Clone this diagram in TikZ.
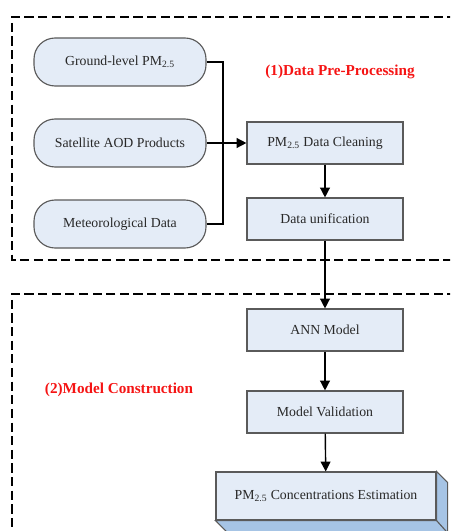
\documentclass[tikz,border=0pt]{standalone}
\usepackage{fontspec}
\setmainfont{Liberation Serif}
\usetikzlibrary{arrows.meta}

\definecolor{boxfill}{RGB}{228,236,247}
\definecolor{boxline}{RGB}{90,90,90}
\definecolor{sidefill}{RGB}{166,196,229}
\definecolor{labelred}{RGB}{245,20,20}
\definecolor{textgray}{RGB}{40,40,40}

\tikzset{
    inputbox/.style={draw=boxline, fill=boxfill, line width=0.8pt, rounded corners=15pt, text=textgray,
        minimum width=172*0.025cm, minimum height=48*0.025cm, font=\fontsize{9.8}{12}\selectfont},
    procbox/.style={draw=boxline, fill=boxfill, line width=0.8pt, text=textgray,
        minimum width=156*0.025cm, minimum height=42*0.025cm, font=\fontsize{9.8}{12}\selectfont},
    stagelabel/.style={text=labelred, font=\fontsize{10.8}{13}\selectfont\bfseries},
    frame/.style={line width=1pt, dash pattern=on 6.5pt off 3.2pt},
    arr/.style={line width=1pt, -{Triangle[length=7pt,width=7pt]}},
    link/.style={line width=1pt}
}

\newcommand{\pmtf}{PM\textsubscript{2.5}}

\begin{document}
\begin{tikzpicture}[x=0.025cm, y=-0.025cm]
    \useasboundingbox (0,0) rectangle (450,531);
    \clip (0,0) rectangle (450,531);

    % dashed frames of the two stages
    \draw[frame] (470,17) -- (12,17) -- (12,260) -- (470,260);
    \draw[frame] (470,294) -- (12,294) -- (12,560);

    % inputs
    \node[inputbox] (ground) at (120,62) {Ground-level \pmtf};
    \node[inputbox] (sat) at (120,143) {Satellite AOD Products};
    \node[inputbox] (meteo) at (120,224) {Meteorological Data};

    % processing chain
    \node[procbox] (clean) at (325,143) {\pmtf{} Data Cleaning};
    \node[procbox] (unify) at (325,219) {Data unification};
    \node[procbox] (ann) at (325,330) {ANN Model};
    \node[procbox] (valid) at (325,412) {Model Validation};
    \node[procbox, minimum width=220*0.025cm, minimum height=48*0.025cm] (estim) at (326,496)
        {\pmtf{} Concentrations Estimation};

    % depth of the last box
    \filldraw[draw=boxline, fill=sidefill, line width=0.8pt]
        (estim.north east) -- ++(11,11) -- ++(0,60) -- ++(-11,-11) -- cycle;
    \filldraw[draw=boxline, fill=sidefill, line width=0.8pt]
        (estim.south west) -- ++(11,11) -- ++(220,0) -- (estim.south east) -- cycle;

    % stage labels
    \node[stagelabel] (stage1) at (340,72) {(1)Data Pre-Processing};
    \node[stagelabel] (stage2) at (119,390) {(2)Model Construction};

    % connectors
    \coordinate (merge) at (223,143);
    \draw[link] (ground.east) -| (merge);
    \draw[link] (meteo.east) -| (merge);
    \draw[arr] (sat.east) -- (clean.west);
    \draw[arr] (clean) -- (unify);
    \draw[arr] (unify) -- (ann);
    \draw[arr] (ann) -- (valid);
    \draw[arr] (valid) -- (estim);

\end{tikzpicture}
\end{document}
